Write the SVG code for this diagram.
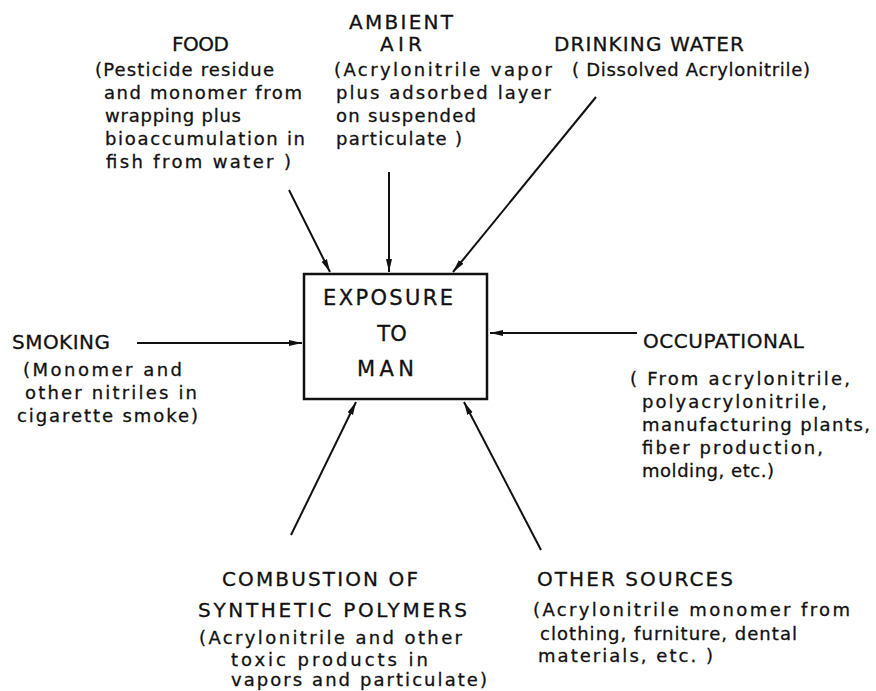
<svg xmlns="http://www.w3.org/2000/svg" width="876" height="691" viewBox="0 0 876 691">
<style>
  .h { font-family: "DejaVu Sans", "Liberation Sans", sans-serif; font-size: 20px; fill: #111; stroke: #111; stroke-width: 0.3; }
  .b { font-family: "DejaVu Sans", "Liberation Sans", sans-serif; font-size: 18px; fill: #111; stroke: #111; stroke-width: 0.3; }
  .bx { font-family: "DejaVu Sans", "Liberation Sans", sans-serif; font-size: 21px; fill: #111; stroke: #111; stroke-width: 0.3; }
  .c { stroke: #111; stroke-width: 2; fill: none; marker-end: url(#ah); }
</style>
<defs>
  <marker id="ah" markerUnits="userSpaceOnUse" markerWidth="14" markerHeight="8" refX="13" refY="4" orient="auto">
    <path d="M0,1 L13,4 L0,7 z" fill="#111"/>
  </marker>
</defs>
<rect width="876" height="691" fill="#fff"/>

<g id="exposure">
  <rect x="304" y="274" width="183" height="125" fill="none" stroke="#111" stroke-width="2.5"/>
  <text class="bx" x="323" y="305" textLength="130" lengthAdjust="spacing">EXPOSURE</text>
  <text class="bx" x="392" y="341" text-anchor="middle">TO</text>
  <text class="bx" x="357" y="376" textLength="57" lengthAdjust="spacing">MAN</text>
</g>

<g id="food">
  <text class="h" x="172" y="51" textLength="57" lengthAdjust="spacing">FOOD</text>
  <text class="b" x="95" y="76" textLength="179" lengthAdjust="spacing">(Pesticide residue</text>
  <text class="b" x="104" y="99" textLength="198" lengthAdjust="spacing">and monomer from</text>
  <text class="b" x="105" y="122" textLength="136" lengthAdjust="spacing">wrapping plus</text>
  <text class="b" x="105" y="145" textLength="200" lengthAdjust="spacing">bioaccumulation in</text>
  <text class="b" x="106" y="168" textLength="185" lengthAdjust="spacing">fish from water )</text>
</g>

<g id="ambient-air">
  <text class="h" x="349" y="29" textLength="104" lengthAdjust="spacing">AMBIENT</text>
  <text class="h" x="380" y="51" textLength="42" lengthAdjust="spacing">AIR</text>
  <text class="b" x="334" y="76" textLength="218" lengthAdjust="spacing">(Acrylonitrile vapor</text>
  <text class="b" x="336" y="99" textLength="215" lengthAdjust="spacing">plus adsorbed layer</text>
  <text class="b" x="336" y="122" textLength="140" lengthAdjust="spacing">on suspended</text>
  <text class="b" x="336" y="145" textLength="126" lengthAdjust="spacing">particulate )</text>
</g>

<g id="drinking-water">
  <text class="h" x="554" y="51" textLength="190" lengthAdjust="spacing">DRINKING WATER</text>
  <text class="b" x="572" y="76" textLength="238" lengthAdjust="spacing">( Dissolved Acrylonitrile)</text>
</g>

<g id="smoking">
  <text class="h" x="12" y="349" textLength="98" lengthAdjust="spacing">SMOKING</text>
  <text class="b" x="23" y="376" textLength="159" lengthAdjust="spacing">(Monomer and</text>
  <text class="b" x="25" y="399" textLength="172" lengthAdjust="spacing">other nitriles in</text>
  <text class="b" x="17" y="422" textLength="181" lengthAdjust="spacing">cigarette smoke)</text>
</g>

<g id="occupational">
  <text class="h" x="643" y="348" textLength="161" lengthAdjust="spacing">OCCUPATIONAL</text>
  <text class="b" x="630" y="385" textLength="220" lengthAdjust="spacing">( From acrylonitrile,</text>
  <text class="b" x="642" y="408" textLength="185" lengthAdjust="spacing">polyacrylonitrile,</text>
  <text class="b" x="642" y="431" textLength="228" lengthAdjust="spacing">manufacturing plants,</text>
  <text class="b" x="642" y="454" textLength="181" lengthAdjust="spacing">fiber production,</text>
  <text class="b" x="642" y="477" textLength="132" lengthAdjust="spacing">molding, etc.)</text>
</g>

<g id="combustion">
  <text class="h" x="222" y="586" textLength="196" lengthAdjust="spacing">COMBUSTION OF</text>
  <text class="h" x="198" y="617" textLength="269" lengthAdjust="spacing">SYNTHETIC POLYMERS</text>
  <text class="b" x="199" y="644" textLength="263" lengthAdjust="spacing">(Acrylonitrile and other</text>
  <text class="b" x="231" y="666" textLength="197" lengthAdjust="spacing">toxic products in</text>
  <text class="b" x="231" y="686" textLength="256" lengthAdjust="spacing">vapors and particulate)</text>
</g>

<g id="other-sources">
  <text class="h" x="537" y="586" textLength="196" lengthAdjust="spacing">OTHER SOURCES</text>
  <text class="b" x="533" y="616" textLength="317" lengthAdjust="spacing">(Acrylonitrile monomer from</text>
  <text class="b" x="540" y="640" textLength="257" lengthAdjust="spacing">clothing, furniture, dental</text>
  <text class="b" x="538" y="662" textLength="175" lengthAdjust="spacing">materials, etc. )</text>
</g>

<g id="connectors">
  <line class="c" x1="289" y1="190" x2="330" y2="272"/>
  <line class="c" x1="389" y1="172" x2="389" y2="272"/>
  <line class="c" x1="596" y1="97" x2="453" y2="272"/>
  <line class="c" x1="137" y1="343" x2="302" y2="343"/>
  <line class="c" x1="637" y1="333" x2="490" y2="333"/>
  <line class="c" x1="291" y1="535" x2="356" y2="402"/>
  <line class="c" x1="541" y1="550" x2="464" y2="402"/>
</g>
</svg>
